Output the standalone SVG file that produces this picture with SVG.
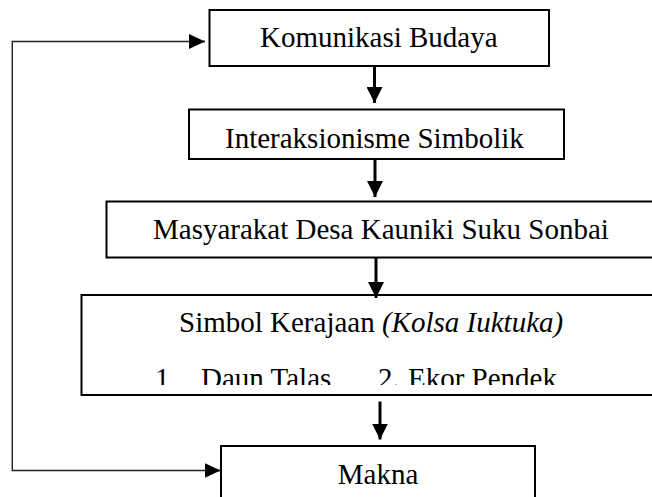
<svg xmlns="http://www.w3.org/2000/svg" width="652" height="497" viewBox="0 0 652 497">
<style>
.box{fill:#fff;stroke:#000;stroke-width:2}
.t{font-family:"Liberation Serif","Times New Roman",serif;font-size:29px;fill:#000}
.it{font-style:italic}
.thick{stroke:#000;stroke-width:3;fill:none}
.thin{stroke:#222;stroke-width:1.4;fill:none}
</style>
<defs>
<marker id="ah" markerUnits="userSpaceOnUse" markerWidth="16" markerHeight="16" refX="16" refY="8" orient="auto">
<path d="M0,0 L16,8 L0,16 Z" fill="#000"/>
</marker>
<marker id="ahs" markerUnits="userSpaceOnUse" markerWidth="16" markerHeight="15" refX="16" refY="7.5" orient="auto">
<path d="M0,0 L16,7.5 L0,15 Z" fill="#000"/>
</marker>
<clipPath id="clipList"><rect x="0" y="340" width="652" height="45"/></clipPath>
</defs>
<g id="n1">
<rect class="box" x="209.5" y="10" width="339.5" height="56"/>
<text class="t" x="260" y="47">Komunikasi Budaya</text>
</g>
<g id="n2">
<rect class="box" x="189" y="109.5" width="375" height="49.5"/>
<text class="t" x="225" y="148">Interaksionisme Simbolik</text>
</g>
<g id="n3">
<rect class="box" x="106.5" y="201.5" width="560" height="56"/>
<text class="t" x="153" y="239">Masyarakat Desa Kauniki Suku Sonbai</text>
</g>
<g id="n4">
<rect class="box" x="81.5" y="295" width="585" height="100"/>
<text class="t" x="179" y="332">Simbol Kerajaan <tspan class="it">(Kolsa Iuktuka)</tspan></text>
<g clip-path="url(#clipList)">
<text class="t" x="155" y="388">1</text>
<text class="t" x="201" y="388">Daun Talas</text>
<text class="t" x="378" y="388">2.</text>
<text class="t" x="408" y="388">Ekor Pendek</text>
</g>
</g>
<g id="n5">
<rect class="box" x="221" y="446" width="314" height="70"/>
<text class="t" x="378" y="484" text-anchor="middle">Makna</text>
</g>
<g id="connectors">
<line class="thick" x1="374.5" y1="66" x2="374.5" y2="103" marker-end="url(#ah)"/>
<line class="thick" x1="375" y1="159" x2="375" y2="197" marker-end="url(#ah)"/>
<line class="thick" x1="376" y1="257.5" x2="376" y2="298" marker-end="url(#ah)"/>
<line class="thick" x1="380" y1="401.5" x2="380" y2="439.5" marker-end="url(#ah)"/>
<polyline class="thin" points="205,41.5 12.3,41.5 12.3,470.5 220.5,470.5" fill="none"/>
<line class="thin" x1="200" y1="41.5" x2="205" y2="41.5" marker-end="url(#ahs)"/>
<line class="thin" x1="215" y1="470.5" x2="220.5" y2="470.5" marker-end="url(#ahs)"/>
</g>
</svg>
